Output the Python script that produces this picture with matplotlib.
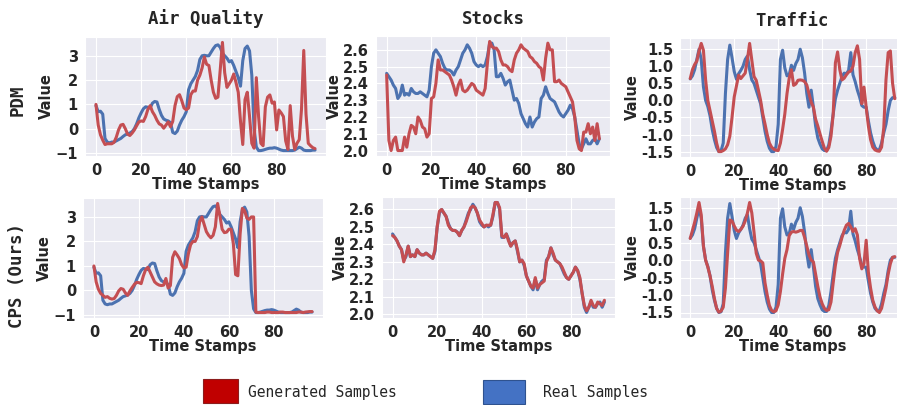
import numpy as np
import matplotlib
matplotlib.use("Agg")
import matplotlib.pyplot as plt
import seaborn as sns
from matplotlib.patches import Rectangle

# ---------------- data ---------------- #
datasets = ["Air Quality", "Stocks", "Traffic"]
methods = ["PDM", "CPS (Ours)"]

real_air = [
    0.95, 0.70, 0.72, 0.60, -0.40, -0.55, -0.58, -0.55, -0.55, -0.50,
    -0.45, -0.40, -0.32, -0.25, -0.22, -0.18, -0.12, 0.00, 0.20, 0.45,
    0.65, 0.82, 0.90, 0.88, 0.85, 1.05, 1.12, 1.10, 0.80, 0.55,
    0.40, 0.35, 0.32, 0.25, -0.15, -0.20, -0.10, 0.15, 0.35, 0.50,
    0.70, 1.60, 1.85, 2.00, 2.15, 2.40, 2.85, 3.00, 3.02, 3.00,
    3.00, 3.15, 3.30, 3.42, 3.45, 3.35, 3.10, 3.00, 2.90, 2.75,
    2.80, 2.60, 2.35, 2.10, 1.75, 2.80, 3.30, 3.40, 3.20, 2.20,
    0.00, -0.75, -0.90, -0.90, -0.88, -0.85, -0.82, -0.80, -0.80, -0.78,
    -0.80, -0.84, -0.88, -0.90, -0.90, -0.90, -0.90, -0.90, -0.88, -0.82,
    -0.76, -0.80, -0.88, -0.90, -0.90, -0.90, -0.88, -0.88]
pdm_air = [
    1.00, 0.15, -0.25, -0.47, -0.65, -0.62, -0.62, -0.62, -0.56, -0.35,
    -0.05, 0.15, 0.18, 0.00, -0.22, -0.28, -0.18, -0.05, 0.12, 0.28,
    0.32, 0.30, 0.50, 0.80, 0.95, 0.70, 0.55, 0.35, 0.20, 0.15,
    0.02, 0.15, 0.28, 0.08, 0.30, 0.95, 1.32, 1.40, 1.15, 0.85,
    0.78, 0.85, 1.40, 1.55, 1.55, 2.00, 2.20, 2.50, 2.95, 2.65,
    2.60, 2.00, 1.50, 1.25, 1.30, 2.40, 3.55, 2.30, 1.70, 1.85,
    2.00, 2.25, 1.90, 1.50, 0.30, -0.65, 1.20, 1.50, 0.50, -0.60,
    -0.80, 2.10, 0.50, -0.60, -0.70, 0.90, 1.30, 1.39, 1.05, 1.10,
    -0.05, 0.77, 0.65, 0.50, -0.50, -0.85, 0.95, -0.30, -0.85, -0.60,
    -0.45, 0.80, 3.22, 0.60, -0.60, -0.70, -0.78, -0.82]
cps_air = [
    1.00, 0.35, 0.05, -0.12, -0.20, -0.28, -0.25, -0.32, -0.35, -0.33,
    -0.20, -0.02, 0.08, 0.05, -0.10, -0.20, -0.02, 0.12, 0.25, 0.33,
    0.32, 0.28, 0.60, 0.85, 0.95, 0.75, 0.55, 0.35, 0.27, 0.22,
    0.20, 0.22, 0.49, 0.10, 0.20, 1.35, 1.58, 1.45, 1.30, 1.05,
    0.92, 0.95, 1.50, 1.87, 2.00, 2.00, 2.20, 2.80, 3.00, 2.70,
    2.40, 2.25, 2.15, 2.25, 2.60, 3.55, 3.05, 2.50, 2.36, 2.38,
    2.50, 2.50, 1.90, 0.65, 0.60, 2.30, 3.35, 3.25, 2.95, 2.90,
    3.00, 3.00, -0.88, -0.90, -0.90, -0.90, -0.90, -0.88, -0.88, -0.90,
    -0.90, -0.90, -0.90, -0.88, -0.88, -0.90, -0.90, -0.90, -0.90, -0.90,
    -0.90, -0.88, -0.88, -0.90, -0.88, -0.87, -0.86, -0.86]

real_stocks = [
    2.46, 2.44, 2.42, 2.39, 2.37, 2.31, 2.33, 2.39, 2.33, 2.34,
    2.33, 2.37, 2.35, 2.34, 2.34, 2.35, 2.34, 2.33, 2.32, 2.36,
    2.50, 2.58, 2.60, 2.58, 2.56, 2.52, 2.49, 2.48, 2.48, 2.47,
    2.45, 2.48, 2.50, 2.54, 2.58, 2.60, 2.63, 2.61, 2.58, 2.53,
    2.51, 2.50, 2.51, 2.50, 2.51, 2.56, 2.64, 2.64, 2.60, 2.44,
    2.44, 2.46, 2.43, 2.39, 2.41, 2.42, 2.36, 2.30, 2.31, 2.28,
    2.22, 2.19, 2.16, 2.14, 2.20, 2.14, 2.17, 2.19, 2.20, 2.31,
    2.33, 2.38, 2.34, 2.31, 2.30, 2.29, 2.26, 2.23, 2.21, 2.20,
    2.22, 2.24, 2.27, 2.25, 2.20, 2.12, 2.04, 2.01, 2.04, 2.07,
    2.04, 2.04, 2.06, 2.07, 2.04, 2.07]
pdm_stocks = [
    2.45, 2.06, 2.00, 2.06, 2.08, 2.00, 2.00, 2.00, 2.08, 2.02,
    2.10, 2.15, 2.14, 2.10, 2.20, 2.18, 2.14, 2.13, 2.08, 2.10,
    2.31, 2.32, 2.40, 2.54, 2.48, 2.48, 2.47, 2.46, 2.45, 2.42,
    2.38, 2.33, 2.39, 2.42, 2.36, 2.35, 2.36, 2.38, 2.40, 2.39,
    2.36, 2.35, 2.34, 2.33, 2.37, 2.52, 2.65, 2.62, 2.61, 2.61,
    2.59, 2.54, 2.51, 2.51, 2.50, 2.48, 2.47, 2.54, 2.58, 2.60,
    2.63, 2.61, 2.60, 2.59, 2.56, 2.55, 2.53, 2.52, 2.50, 2.49,
    2.42, 2.55, 2.64, 2.60, 2.60, 2.41, 2.41, 2.42, 2.40, 2.39,
    2.38, 2.35, 2.32, 2.29, 2.20, 2.06, 2.01, 2.00, 2.11, 2.11,
    2.16, 2.10, 2.14, 2.06, 2.16, 2.07]
cps_stocks = [
    2.45, 2.44, 2.42, 2.39, 2.37, 2.30, 2.34, 2.39, 2.33, 2.34,
    2.33, 2.37, 2.35, 2.34, 2.34, 2.35, 2.34, 2.33, 2.32, 2.37,
    2.50, 2.59, 2.60, 2.58, 2.56, 2.51, 2.49, 2.48, 2.48, 2.47,
    2.45, 2.48, 2.50, 2.53, 2.57, 2.61, 2.62, 2.61, 2.58, 2.54,
    2.52, 2.50, 2.51, 2.51, 2.51, 2.57, 2.64, 2.64, 2.61, 2.45,
    2.44, 2.46, 2.42, 2.39, 2.41, 2.42, 2.37, 2.30, 2.31, 2.29,
    2.22, 2.19, 2.16, 2.15, 2.21, 2.15, 2.17, 2.18, 2.19, 2.30,
    2.33, 2.38, 2.35, 2.31, 2.30, 2.29, 2.27, 2.24, 2.21, 2.20,
    2.22, 2.24, 2.27, 2.25, 2.21, 2.12, 2.05, 2.02, 2.04, 2.08,
    2.05, 2.04, 2.07, 2.06, 2.05, 2.08]

real_traffic = [
    0.63, 0.72, 0.90, 1.20, 1.50, 1.20, 0.40, 0.00, -0.18, -0.45,
    -0.85, -1.15, -1.38, -1.50, -1.48, -1.25, 0.20, 1.20, 1.62, 1.25,
    0.85, 0.62, 0.78, 0.88, 1.00, 1.20, 1.30, 0.90, 0.60, 0.50,
    0.30, 0.10, -0.10, -0.50, -0.90, -1.20, -1.40, -1.50, -1.50, -1.35,
    -0.70, 1.20, 1.47, 0.95, 0.72, 0.75, 1.03, 0.88, 1.08, 1.20,
    1.50, 1.25, 0.80, 0.20, -0.20, 0.30, -0.20, -0.75, -1.10, -1.28,
    -1.42, -1.47, -1.47, -1.30, -0.90, -0.40, 0.05, 0.30, 0.50, 0.70,
    0.80, 0.78, 0.88, 1.40, 0.75, 0.55, 0.30, 0.10, -0.15, -0.20,
    -0.20, -0.60, -0.95, -1.20, -1.38, -1.45, -1.45, -1.25, -0.95, -0.70,
    -0.30, 0.00, 0.08, 0.08]
pdm_traffic = [
    0.64, 0.90, 1.05, 1.15, 1.45, 1.67, 1.47, 0.60, 0.00, -0.30,
    -0.60, -0.90, -1.25, -1.50, -1.50, -1.47, -1.42, -1.30, -1.05, -0.50,
    0.10, 0.42, 0.74, 0.64, 0.72, 0.80, 1.20, 1.67, 1.18, 0.70,
    0.59, 0.30, 0.00, -0.40, -0.69, -1.00, -1.25, -1.37, -1.43, -1.46,
    -1.47, -1.25, -0.85, -0.40, 0.20, 0.65, 0.90, 0.44, 0.48, 0.59,
    0.60, 0.59, 0.55, 0.45, 0.20, -0.05, -0.20, -0.55, -0.75, -0.98,
    -1.20, -1.40, -1.49, -1.38, -1.05, -0.40, 1.10, 1.42, 0.90, 0.60,
    0.65, 0.75, 0.83, 0.86, 1.00, 1.40, 1.60, 1.20, -0.10, 0.39,
    -0.20, -0.75, -1.15, -1.37, -1.45, -1.48, -1.49, -1.37, -0.80, 0.60,
    1.40, 1.45, 0.50, 0.05]
cps_traffic = [
    0.62, 0.85, 1.08, 1.35, 1.65, 1.30, 0.40, 0.00, -0.20, -0.45,
    -0.75, -1.10, -1.38, -1.49, -1.46, -1.35, -0.80, 0.20, 1.15, 1.12,
    0.98, 0.86, 0.82, 0.88, 0.97, 1.12, 1.35, 1.65, 1.35, 0.80,
    0.20, 0.00, -0.02, -0.08, -0.65, -1.00, -1.30, -1.44, -1.48, -1.45,
    -1.28, -0.90, -0.40, 0.05, 0.30, 0.70, 0.80, 0.82, 0.80, 0.82,
    0.85, 0.85, 0.65, 0.40, 0.15, 0.00, -0.05, -0.40, -0.75, -1.05,
    -1.25, -1.38, -1.44, -1.42, -1.20, -0.65, -0.15, 0.22, 0.42, 0.65,
    0.85, 1.00, 1.05, 0.95, 0.82, 0.90, 0.72, 0.05, -0.25, -0.10,
    0.57, -0.35, -0.80, -1.15, -1.34, -1.45, -1.50, -1.38, -1.10, -0.80,
    -0.40, -0.10, 0.08, 0.10]

x_ticks = [0, 20, 40, 60, 80]
y_ticks = {
    "Air Quality": [-1, 0, 1, 2, 3],
    "Stocks": [2.0, 2.1, 2.2, 2.3, 2.4, 2.5, 2.6],
    "Traffic": [-1.5, -1.0, -0.5, 0.0, 0.5, 1.0, 1.5],
}

real_series = {"Air Quality": real_air, "Stocks": real_stocks, "Traffic": real_traffic}
gen_series = {
    "PDM": {"Air Quality": pdm_air, "Stocks": pdm_stocks, "Traffic": pdm_traffic},
    "CPS (Ours)": {"Air Quality": cps_air, "Stocks": cps_stocks, "Traffic": cps_traffic},
}

# ---------------- style ---------------- #
sns.set_style("darkgrid")
plt.rcParams['font.family'] = ['DejaVu Sans']

BLUE = "#4C72B0"
RED = "#C44E52"
W, H = 897, 405

# axes boxes in pixels: left, top, right, bottom
boxes = {
    ("PDM", "Air Quality"): (85, 37, 326, 156),
    ("PDM", "Stocks"): (376, 36, 610, 156),
    ("PDM", "Traffic"): (680, 38, 905, 157),
    ("CPS (Ours)", "Air Quality"): (83, 198, 323, 318),
    ("CPS (Ours)", "Stocks"): (382, 197, 615, 318),
    ("CPS (Ours)", "Traffic"): (680, 197, 905, 318),
}

fig = plt.figure(figsize=(W / 100, H / 100), dpi=100)

for r, method in enumerate(methods):
    for name in datasets:
        l, t, rgt, b = boxes[(method, name)]
        ax = fig.add_axes([l / W, 1 - b / H, (rgt - l) / W, (b - t) / H])
        real = real_series[name]
        gen = gen_series[method][name]
        ax.plot(np.arange(len(real)), real, color=BLUE, lw=2.2)
        ax.plot(np.arange(len(gen)), gen, color=RED, lw=2.2)
        ax.set_xticks(x_ticks)
        ax.set_yticks(y_ticks[name])
        if name != "Air Quality":
            ax.set_yticklabels([f"{v:.1f}" for v in y_ticks[name]])
        ax.tick_params(labelsize=10.5, pad=1.5, colors="#262626")
        for lab in ax.get_xticklabels() + ax.get_yticklabels():
            lab.set_fontweight("bold")
        ax.set_xlabel("Time Stamps", fontsize=10.5, fontweight="bold",
                      labelpad=-1, color="#262626")
        ax.set_ylabel("Value", fontsize=10.5, fontweight="bold",
                      labelpad=1, color="#262626")
        if r == 0:
            ax.set_title(name, fontsize=12.5, fontweight="bold",
                         family="DejaVu Sans Mono", pad=9)

# row labels
fig.text(18 / W, 1 - 100 / H, "PDM", rotation=90, ha="center", va="center",
         fontsize=12.5, fontweight="bold", family="DejaVu Sans Mono")
fig.text(17 / W, 1 - 275 / H, "CPS (Ours)", rotation=90, ha="center",
         va="center", fontsize=12.5, fontweight="bold",
         family="DejaVu Sans Mono")

# legend drawn by hand along the bottom
fig.patches.append(Rectangle((203 / W, 1 - 403 / H), 35 / W, 24 / H,
                             transform=fig.transFigure, facecolor="#C00000",
                             edgecolor="#8C1C1C", lw=0.8))
fig.text(248 / W, 1 - 392 / H, "Generated Samples", ha="left", va="center",
         fontsize=10.5, family="DejaVu Sans Mono")
fig.patches.append(Rectangle((483 / W, 1 - 404 / H), 42 / W, 24 / H,
                             transform=fig.transFigure, facecolor="#4472C4",
                             edgecolor="#2F528F", lw=0.8))
fig.text(543 / W, 1 - 392 / H, "Real Samples", ha="left", va="center",
         fontsize=10.5, family="DejaVu Sans Mono")

fig.savefig("out.png", dpi=100)
